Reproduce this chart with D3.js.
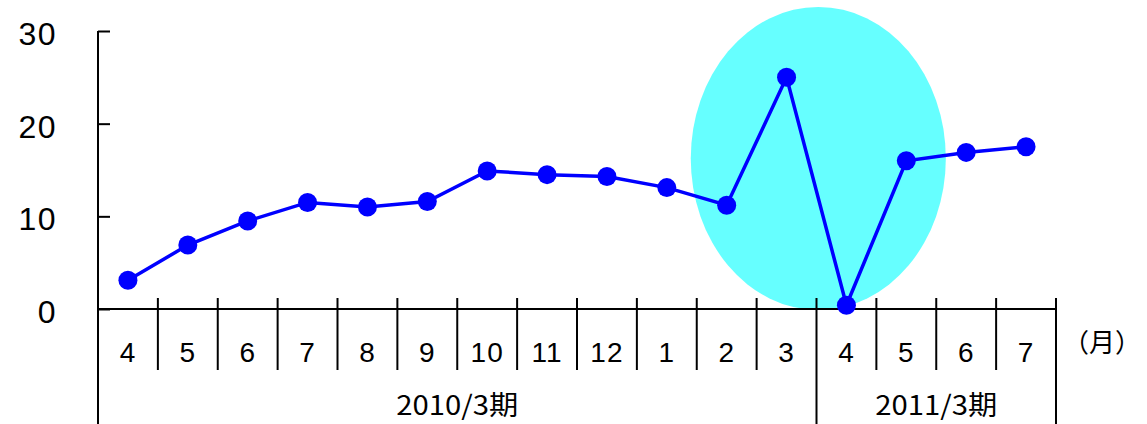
<!DOCTYPE html>
<html>
<head>
<meta charset="utf-8">
<script src="https://cdn.jsdelivr.net/npm/d3@7"></script>
<style>
  html, body { margin: 0; padding: 0; background: #fff; }
  svg { display: block; }
  text { font-family: "Noto Sans CJK JP", "Noto Sans", sans-serif; fill: #000; }
</style>
</head>
<body>
<svg id="chart" width="1147" height="424"></svg>
<script>
// ---- data ----
const months = ["4","5","6","7","8","9","10","11","12","1","2","3","4","5","6","7"];
const values = [3.1, 6.9, 9.5, 11.5, 11.0, 11.6, 14.9, 14.5, 14.3, 13.1, 11.2, 25.0, 0.4, 16.0, 16.9, 17.5];
const yTicks = [0, 10, 20, 30];
const periodLabels = ["2010/3期", "2011/3期"];
const periodSpans = [12, 4];
const unitLabel = "（月）";

// ---- layout ----
const W = 1147, H = 424;
const left = 98, right = 1056, y0px = 309, ytop = 31;
const numFont = '"Liberation Sans", Arial, sans-serif';

const svg = d3.select("#chart");
const idx = months.map((d, i) => i);

const x = d3.scaleBand().domain(idx).range([left, right]).padding(0);
const y = d3.scaleLinear().domain([0, 30]).range([y0px, ytop]);

// highlight ellipse (around the 2011/3期 boundary)
const bw = x.bandwidth();
svg.append("ellipse")
  .attr("cx", x(12) + 0.03 * bw)
  .attr("cy", (y(-0.1) + y(32.6)) / 2)
  .attr("rx", 2.13 * bw)
  .attr("ry", (y(-0.1) - y(32.6)) / 2)
  .attr("fill", "#66FFFF");

// y axis
const yAxis = d3.axisLeft(y).tickValues(yTicks).tickSize(-12).tickPadding(41);
const gy = svg.append("g").attr("transform", `translate(${left},0)`).call(yAxis);
gy.select(".domain").remove();
gy.selectAll(".tick line").attr("stroke", "#000").attr("stroke-width", 2);
gy.selectAll(".tick text").attr("font-size", 32).attr("dy", "0.42em")
  .attr("letter-spacing", 1.5)
  .style("font-family", numFont);
svg.append("line").attr("x1", left).attr("x2", left)
  .attr("y1", y(30)).attr("y2", H).attr("stroke", "#000").attr("stroke-width", 2);

// x axis (category labels)
const xAxis = d3.axisBottom(x).tickSize(0).tickPadding(0).tickFormat(i => months[i]);
const gx = svg.append("g").attr("transform", `translate(0,${y0px})`).call(xAxis);
gx.select(".domain").remove();
gx.selectAll(".tick text").attr("font-size", 28).attr("y", 53).attr("dy", 0)
  .attr("letter-spacing", 1)
  .style("font-family", numFont);

svg.append("line").attr("x1", left).attr("x2", right)
  .attr("y1", y0px).attr("y2", y0px).attr("stroke", "#000").attr("stroke-width", 2);

// category dividers
const boundaries = d3.range(1, months.length + 1);
const periodEnds = d3.cumsum(periodSpans);
svg.append("g").selectAll("line").data(boundaries).join("line")
  .attr("x1", b => b < months.length ? x(b) : right)
  .attr("x2", b => b < months.length ? x(b) : right)
  .attr("y1", y0px - 11)
  .attr("y2", b => periodEnds.includes(b) ? H : 370)
  .attr("stroke", "#000").attr("stroke-width", 2);

// period labels
let start = 0;
periodLabels.forEach((lab, k) => {
  const end = start + periodSpans[k];
  const xs = x(start), xe = end < months.length ? x(end) : right;
  svg.append("text").attr("x", (xs + xe) / 2).attr("y", 415)
    .attr("text-anchor", "middle").attr("font-size", 27)
    .attr("textLength", 122).attr("lengthAdjust", "spacingAndGlyphs")
    .text(lab);
  start = end;
});

// unit label
svg.append("text").attr("x", 1102).attr("y", 352).attr("text-anchor", "middle")
  .attr("font-size", 26).text(unitLabel);

// line + markers
const line = d3.line().x((d, i) => x(i) + bw / 2).y(d => y(d));
svg.append("path").datum(values).attr("d", line)
  .attr("fill", "none").attr("stroke", "#0000FF").attr("stroke-width", 3.5);
svg.append("g").selectAll("circle").data(values).join("circle")
  .attr("cx", (d, i) => x(i) + bw / 2).attr("cy", d => y(d)).attr("r", 9.5)
  .attr("fill", "#0000FF");
</script>
</body>
</html>
